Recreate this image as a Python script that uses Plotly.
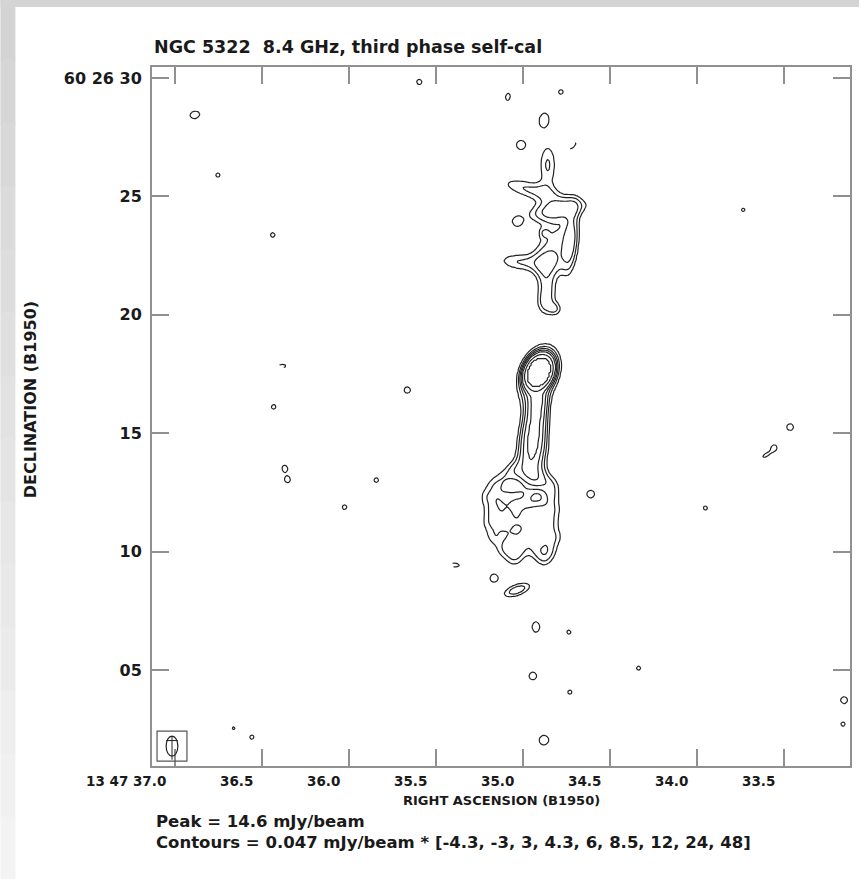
import numpy as np
import plotly.graph_objects as go

# ---------------- text / axes data ----------------
title_text = "NGC 5322  8.4 GHz, third phase self-cal"
peak_mjy = 14.6
rms_mjy = 0.047
contour_levels = [-4.3, -3, 3, 4.3, 6, 8.5, 12, 24, 48]

ra_tick_vals = [37.0, 36.5, 36.0, 35.5, 35.0, 34.5, 34.0, 33.5]
ra_tick_text = ["13 47 37.0", "36.5", "36.0", "35.5", "35.0", "34.5", "34.0", "33.5"]
dec_tick_vals = [30, 25, 20, 15, 10, 5]
dec_tick_text = ["60 26 30", "25", "20", "15", "10", "05"]

ra_range = [37.132, 33.118]     # seconds of RA (13h47m..)
dec_range = [0.95, 30.46]       # arcsec of Dec (60d26m..)
dec_center_deg = 60.44

# ---------------- source components ----------------
# columns: RA seconds, Dec arcsec, amplitude (units of rms), sigma major / minor (arcsec), PA (deg)
# core + halo
core_ra = [34.907, 34.907]
core_dec = [17.58, 17.45]
core_amp = [298, 12]
core_smaj = [0.33, 0.80]
core_smin = [0.24, 0.50]
core_pa = [25, 20]

# southern jet ridge
jet_ra = [34.913, 34.924, 34.936, 34.942, 34.953, 34.964]
jet_dec = [16.40, 15.77, 15.13, 14.50, 13.87, 13.23]
jet_amp = [8.5, 9.0, 9.5, 9.5, 7.5, 5.5]
jet_smaj = [0.40, 0.40, 0.40, 0.40, 0.40, 0.40]
jet_smin = [0.28, 0.32, 0.36, 0.38, 0.40, 0.42]
jet_pa = [-5, -5, 0, 0, 0, 0]

# southern lobe (lumpy plume)
slobe_ra = [35.165, 34.907, 34.833, 35.205, 35.108, 35.022, 34.833,
            35.177, 35.079, 34.987, 34.907, 34.821,
            35.194, 35.108, 35.022, 34.936, 34.838,
            35.165, 35.068, 34.976, 34.878, 34.810,
            35.108, 35.022, 34.924, 34.850, 35.050, 34.878,
            35.050, 35.108,
            35.165, 35.033, 35.394]
slobe_dec = [12.81, 13.02, 12.81, 12.31, 12.31, 12.39, 12.31,
             11.76, 11.76, 11.76, 11.76, 11.76,
             11.21, 11.21, 11.21, 11.21, 11.21,
             10.62, 10.62, 10.62, 10.62, 10.62,
             10.07, 10.07, 10.07, 10.07, 9.65, 9.65,
             13.45, 13.11,
             8.88, 8.38, 9.43]
slobe_amp = [3.0, 4.0, 3.0, 3.2, 2.6, 3.6, 3.2,
             3.4, 2.8, 3.0, 3.6, 3.0,
             3.0, 3.4, 2.6, 3.2, 3.3,
             3.2, 2.8, 3.5, 3.2, 2.8,
             3.3, 3.4, 3.1, 3.5, 2.8, 3.0,
             3.0, 2.8,
             3.7, 5.5, -3.6]
slobe_smaj = [0.30, 0.35, 0.30, 0.30, 0.30, 0.40, 0.30,
              0.30, 0.30, 0.30, 0.30, 0.30,
              0.30, 0.30, 0.30, 0.30, 0.30,
              0.30, 0.30, 0.30, 0.30, 0.30,
              0.30, 0.30, 0.30, 0.30, 0.30, 0.30,
              0.30, 0.30,
              0.25, 0.50, 0.35]
slobe_smin = [0.30, 0.35, 0.30, 0.30, 0.30, 0.25, 0.30,
              0.30, 0.30, 0.30, 0.30, 0.30,
              0.30, 0.30, 0.30, 0.30, 0.30,
              0.30, 0.30, 0.30, 0.30, 0.30,
              0.30, 0.30, 0.30, 0.30, 0.30, 0.30,
              0.30, 0.30,
              0.25, 0.20, 0.12]
slobe_pa = [0, 0, 0, 0, 0, 90, 0,
            0, 0, 0, 0, 0,
            0, 0, 0, 0, 0,
            0, 0, 0, 0, 0,
            0, 0, 0, 0, 0, 0,
            0, 0,
            0, 70, 90]

# northern lobe and the blobs above it
nlobe_ra = [34.856, 34.953, 34.804, 34.804, 34.724, 34.878, 35.022, 34.861,
            34.861, 34.878, 34.815, 35.033,
            34.878, 35.010, 35.085, 34.781, 34.712]
nlobe_dec = [26.33, 25.27, 24.43, 23.16, 23.16, 23.45, 22.23, 22.23,
             21.26, 20.50, 20.24, 23.92,
             28.23, 27.17, 29.20, 29.41, 27.13]
nlobe_amp = [4.5, 4.5, 6.0, 4.5, 5.5, 2.0, 4.2, 4.0,
             4.2, 3.9, 3.8, 3.5,
             3.8, 3.6, 3.4, 3.3, -3.5]
nlobe_smaj = [0.75, 1.10, 0.90, 0.90, 1.00, 0.15, 0.75, 0.45,
              0.60, 0.40, 0.22, 0.22,
              0.38, 0.30, 0.28, 0.20, 0.30]
nlobe_smin = [0.30, 0.30, 0.30, 0.60, 0.22, 0.15, 0.30, 0.45,
              0.30, 0.25, 0.22, 0.22,
              0.26, 0.30, 0.18, 0.20, 0.10]
nlobe_pa = [0, 105, 80, 0, 5, 0, 95, 0,
            -10, 0, 0, 0,
            10, 0, 10, 0, 45]

# isolated faint peaks across the field
noise_ra = [36.885, 36.753, 36.438, 36.381, 36.432, 36.369, 36.352, 36.025,
            35.842, 35.664, 35.595, 34.924, 34.942, 34.878, 34.735, 34.729,
            34.609, 34.334, 33.950, 33.732, 33.600, 33.554, 33.462, 33.152,
            33.158, 36.662, 36.558]
noise_dec = [28.44, 25.90, 23.37, 17.84, 16.11, 13.53, 13.02, 11.88,
             13.02, 16.82, 29.83, 6.82, 4.75, 2.04, 6.60, 4.07,
             12.43, 5.08, 11.84, 24.43, 14.08, 14.42, 15.26, 3.73,
             2.72, 2.55, 2.17]
noise_amp = [3.7, 3.3, 3.3, -3.5, 3.3, 3.4, 3.4, 3.3,
             3.3, 3.5, 3.4, 3.8, 3.6, 3.8, 3.3, 3.3,
             3.6, 3.3, 3.3, 3.2, 3.4, 3.3, 3.6, 3.6,
             3.3, 3.2, 3.3]
noise_smaj = [0.30, 0.18, 0.20, 0.25, 0.20, 0.20, 0.20, 0.20,
              0.20, 0.22, 0.20, 0.30, 0.25, 0.28, 0.18, 0.18,
              0.25, 0.18, 0.18, 0.18, 0.30, 0.15, 0.22, 0.22,
              0.18, 0.15, 0.18]
noise_smin = [0.22, 0.18, 0.20, 0.10, 0.20, 0.20, 0.20, 0.20,
              0.20, 0.22, 0.20, 0.22, 0.25, 0.28, 0.18, 0.18,
              0.25, 0.18, 0.18, 0.18, 0.12, 0.15, 0.22, 0.22,
              0.18, 0.15, 0.18]
noise_pa = [80, 0, 0, 90, 0, 0, 0, 0,
            0, 0, 0, 0, 0, 0, 0, 0,
            0, 0, 0, 0, 60, 0, 0, 0,
            0, 0, 0]

# beam (FWHM, arcsec) and its position in the corner box
beam_bmaj = 0.85
beam_bmin = 0.50
beam_ra = 37.017
beam_dec = 1.79
beam_box_ra = [37.103, 36.931]
beam_box_dec = [1.16, 2.42]

# ---------------- build map ----------------
groups = [
    (core_ra, core_dec, core_amp, core_smaj, core_smin, core_pa),
    (jet_ra, jet_dec, jet_amp, jet_smaj, jet_smin, jet_pa),
    (slobe_ra, slobe_dec, slobe_amp, slobe_smaj, slobe_smin, slobe_pa),
    (nlobe_ra, nlobe_dec, nlobe_amp, nlobe_smaj, nlobe_smin, nlobe_pa),
    (noise_ra, noise_dec, noise_amp, noise_smaj, noise_smin, noise_pa),
]
nx, ny = 430, 430
ra = np.linspace(min(ra_range), max(ra_range), nx)
dec = np.linspace(min(dec_range), max(dec_range), ny)
RA, DEC = np.meshgrid(ra, dec)
scale = 15.0 * np.cos(np.radians(dec_center_deg))   # arcsec per second of RA
img = np.zeros_like(RA)
for g in groups:
    for r0, d0, a0, sj, sn, pa in zip(*g):
        dx = -(RA - r0) * scale
        dy = DEC - d0
        t = np.radians(pa)
        u = dx * np.sin(t) + dy * np.cos(t)
        v = dx * np.cos(t) - dy * np.sin(t)
        img += a0 * np.exp(-0.5 * ((u / sj) ** 2 + (v / sn) ** 2))

pos_levels = [l for l in contour_levels if l > 0]
neg_levels = [-l for l in contour_levels if l < 0][::-1]
zpos = np.interp(img, [0] + pos_levels + [1e4], list(range(len(pos_levels) + 2))).astype(np.float32)
zneg = np.interp(-img, [0] + neg_levels + [1e4], list(range(len(neg_levels) + 2))).astype(np.float32)

line_col = "#222222"
fig = go.Figure()
fig.add_trace(go.Contour(
    x=ra, y=dec, z=zpos,
    contours=dict(start=1, end=len(pos_levels), size=1, coloring="lines"),
    colorscale=[[0, line_col], [1, line_col]], showscale=False,
    line=dict(width=1.2), hoverinfo="skip"))
fig.add_trace(go.Contour(
    x=ra, y=dec, z=zneg,
    contours=dict(start=1, end=len(neg_levels), size=1, coloring="lines"),
    colorscale=[[0, line_col], [1, line_col]], showscale=False,
    line=dict(width=1.2, dash="dash"), hoverinfo="skip"))

# ---------------- decorations ----------------
font_family = "DejaVu Sans"
txt_col = "#1a1a1a"
shapes = []
# grey page border (top strip + left gradient strip)
shapes.append(dict(type="rect", xref="paper", yref="paper", x0=-0.2171, x1=1.013,
                   y0=1.0858, y1=1.10, line=dict(width=0), fillcolor="#d4d4d4", layer="below"))
nb = 14
for i in range(nb):
    y1 = 1.10 - i * (1.10 + 0.162) / nb
    y0 = y1 - (1.10 + 0.162) / nb - 0.002
    gv = int(0xd4 + (0xf3 - 0xd4) * i / (nb - 1))
    shapes.append(dict(type="rect", xref="paper", yref="paper", x0=-0.2172, x1=-0.1957,
                       y0=y0, y1=y1, line=dict(width=0),
                       fillcolor=f"rgb({gv},{gv},{gv})", layer="below"))
# beam box and beam ellipse
shapes.append(dict(type="rect", xref="x", yref="y", x0=beam_box_ra[0], x1=beam_box_ra[1],
                   y0=beam_box_dec[0], y1=beam_box_dec[1], line=dict(color="#555", width=1.2)))
bx = beam_bmin / 2 / scale
by = beam_bmaj / 2
shapes.append(dict(type="circle", xref="x", yref="y", x0=beam_ra + bx, x1=beam_ra - bx,
                   y0=beam_dec - by, y1=beam_dec + by, line=dict(color=line_col, width=1.2)))
shapes.append(dict(type="line", xref="x", yref="y", x0=beam_ra, x1=beam_ra,
                   y0=beam_dec - by * 1.35, y1=beam_dec + by, line=dict(color=line_col, width=1)))
shapes.append(dict(type="line", xref="x", yref="y", x0=beam_ra + bx, x1=beam_ra - bx,
                   y0=beam_dec + by * 0.55, y1=beam_dec + by * 0.55, line=dict(color=line_col, width=1)))


def fnt(size, weight="bold"):
    return dict(size=size, family=font_family, color=txt_col, weight=weight)


annotations = [
    dict(text=title_text, xref="paper", yref="paper", x=0.0, y=1.028, xanchor="left",
         yanchor="middle", showarrow=False, font=fnt(17.5)),
    dict(text="RIGHT ASCENSION (B1950)", xref="paper", yref="paper", x=0.5, y=-0.050,
         xanchor="center", yanchor="middle", showarrow=False, font=fnt(13)),
    dict(text="DECLINATION (B1950)", xref="paper", yref="paper", x=-0.174, y=0.524,
         xanchor="center", yanchor="middle", showarrow=False, textangle=-90, font=fnt(16)),
    dict(text=f"Peak = {peak_mjy} mJy/beam", xref="paper", yref="paper", x=0.003, y=-0.080,
         xanchor="left", yanchor="middle", showarrow=False, font=fnt(16.5)),
    dict(text=f"Contours = {rms_mjy} mJy/beam * [" + ", ".join(f"{l:g}" for l in contour_levels) + "]",
         xref="paper", yref="paper", x=0.003, y=-0.109,
         xanchor="left", yanchor="middle", showarrow=False, font=fnt(16.5)),
]
for v, t in zip(ra_tick_vals, ra_tick_text):
    annotations.append(dict(text=t, xref="x", yref="paper", x=v, y=-0.022, xanchor="right",
                            yanchor="middle", xshift=-7, showarrow=False, font=fnt(13.5)))

axis_col = "#909090"
fig.update_layout(
    width=861, height=879,
    margin=dict(l=152, r=9, t=67, b=113),
    paper_bgcolor="white", plot_bgcolor="white",
    showlegend=False,
    shapes=shapes, annotations=annotations,
    xaxis=dict(range=ra_range, tickvals=ra_tick_vals, ticktext=ra_tick_text, showticklabels=False,
               ticks="inside", ticklen=17, tickwidth=2, tickcolor=axis_col,
               showline=True, linecolor=axis_col, linewidth=2, mirror="ticks",
               showgrid=False, zeroline=False),
    yaxis=dict(range=dec_range, tickvals=dec_tick_vals, ticktext=dec_tick_text,
               ticks="inside", ticklen=17, tickwidth=2, tickcolor=axis_col,
               showline=True, linecolor=axis_col, linewidth=2, mirror="ticks",
               showgrid=False, zeroline=False, tickfont=fnt(16), ticklabelstandoff=5),
)
fig.write_html("out.html")
